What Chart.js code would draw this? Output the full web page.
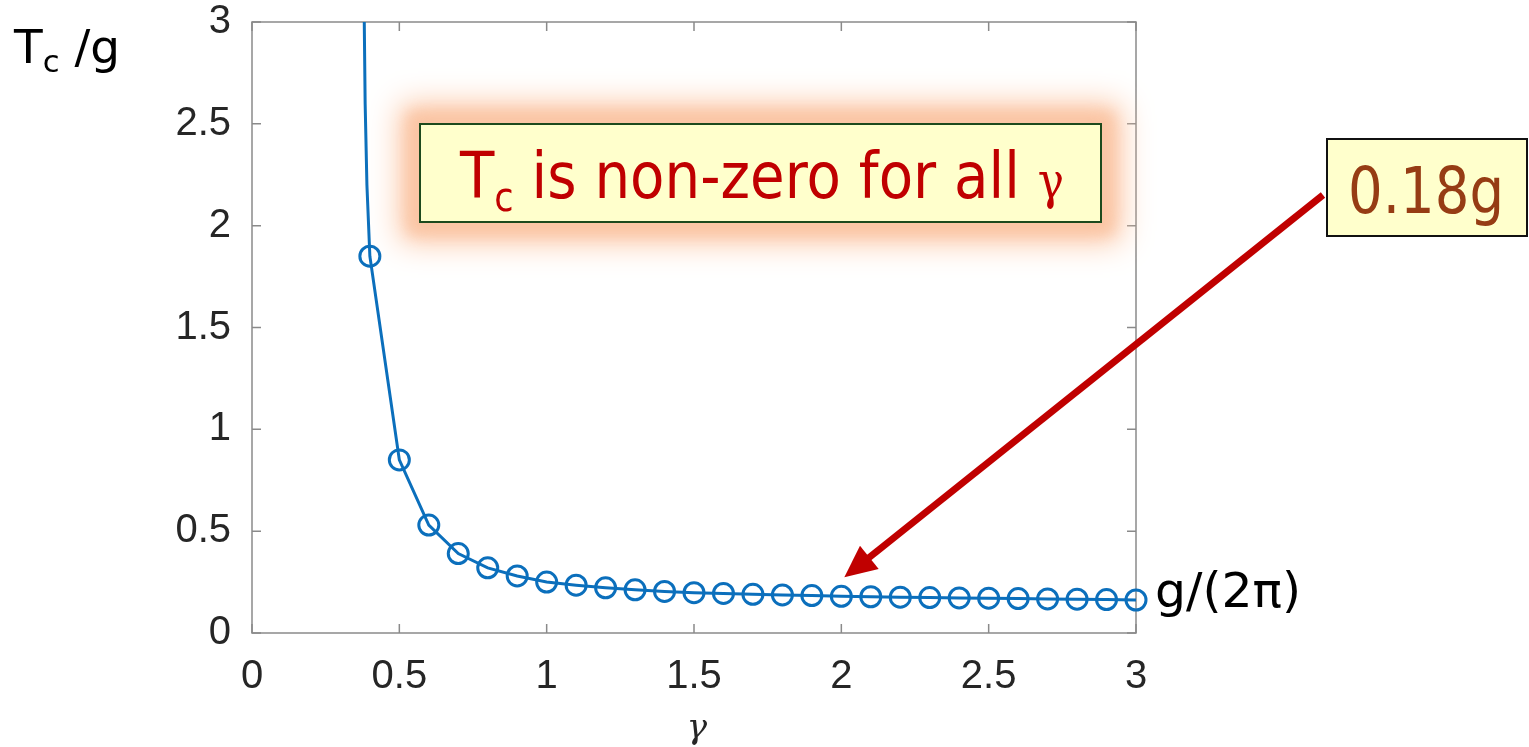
<!DOCTYPE html>
<html>
<head>
<meta charset="utf-8">
<title>Tc vs gamma</title>
<script src="https://cdn.jsdelivr.net/npm/chart.js@4.4.1/dist/chart.umd.min.js"></script>
<style>
  html, body { margin: 0; padding: 0; background: #fff; }
  #wrap { width: 1529px; height: 747px; position: relative; }
</style>
</head>
<body>
<div id="wrap"><canvas id="tcChart"></canvas></div>
<script>
// Tc/g computed at each gamma (circles)
const gammaPts = [0.4, 0.5, 0.6, 0.7, 0.8, 0.9, 1.0, 1.1, 1.2, 1.3, 1.4, 1.5, 1.6, 1.7,
                  1.8, 1.9, 2.0, 2.1, 2.2, 2.3, 2.4, 2.5, 2.6, 2.7, 2.8, 2.9, 3.0];
const tcPts = [1.85, 0.85, 0.53, 0.39, 0.32, 0.28, 0.25, 0.235, 0.222, 0.212, 0.204, 0.198, 0.194, 0.19,
               0.187, 0.184, 0.18, 0.178, 0.176, 0.174, 0.172, 0.171, 0.169, 0.167, 0.166, 0.164, 0.162];
// steep branch of the curve above the first circle
const curveTopGamma = [0.381, 0.384, 0.39];
const curveTopTc = [3.0, 2.6, 2.2];

const xTicks = [0, 0.5, 1, 1.5, 2, 2.5, 3];
const yTicks = [0, 0.5, 1, 1.5, 2, 2.5, 3];

// callout: value of Tc/g at gamma = 2
const calloutGamma = 2.0;
const calloutValue = 0.18;

const BLUE = '#0b6fbc';
const AXIS_GREY = '#8a8a8a';
const TICK_TEXT = '#262626';

const curveData = curveTopGamma.map((g, i) => ({ x: g, y: curveTopTc[i] }))
  .concat(gammaPts.map((g, i) => ({ x: g, y: tcPts[i] })));
const markerData = gammaPts.map((g, i) => ({ x: g, y: tcPts[i] }));

// MATLAB-like box with inward ticks on all four sides
const framePlugin = {
  id: 'frame',
  beforeDatasetsDraw(chart) {
    const { ctx, chartArea: a, scales: { x, y } } = chart;
    const len = 9;
    ctx.save();
    ctx.strokeStyle = AXIS_GREY;
    ctx.lineWidth = 1.5;
    ctx.strokeRect(a.left, a.top, a.right - a.left, a.bottom - a.top);
    ctx.beginPath();
    xTicks.forEach(v => {
      const px = x.getPixelForValue(v);
      ctx.moveTo(px, a.bottom); ctx.lineTo(px, a.bottom - len);
      ctx.moveTo(px, a.top); ctx.lineTo(px, a.top + len);
    });
    yTicks.forEach(v => {
      const py = y.getPixelForValue(v);
      ctx.moveTo(a.left, py); ctx.lineTo(a.left + len, py);
      ctx.moveTo(a.right, py); ctx.lineTo(a.right - len, py);
    });
    ctx.stroke();
    ctx.restore();
  }
};

// draw a run of text pieces (sub/superscripts), squeezed to a given width if asked
function drawRuns(ctx, runs, x, baseline, color, fitWidth) {
  let total = 0;
  runs.forEach(r => { ctx.font = r.font; r.w = ctx.measureText(r.t).width; total += r.w; });
  const sx = fitWidth ? fitWidth / total : 1;
  ctx.save();
  ctx.translate(x, baseline);
  ctx.scale(sx, 1);
  ctx.fillStyle = color;
  ctx.textBaseline = 'alphabetic';
  ctx.textAlign = 'left';
  let cx = 0;
  runs.forEach(r => {
    ctx.font = r.font;
    ctx.fillText(r.t, cx, r.dy || 0);
    cx += r.w;
  });
  ctx.restore();
}

const notesPlugin = {
  id: 'notes',
  afterDraw(chart) {
    const { ctx, scales: { x, y } } = chart;
    ctx.save();

    // axis titles
    drawRuns(ctx, [
      { t: 'T', font: '46px "DejaVu Sans"' },
      { t: 'c', font: '30px "DejaVu Sans"', dy: 9 },
      { t: ' /g', font: '46px "DejaVu Sans"' }
    ], 14, 63, '#000', 106);
    drawRuns(ctx, [{ t: 'g/(2π)', font: '48px "DejaVu Sans"' }], 1155, 607, '#000', 146);
    ctx.font = 'italic 34px "DejaVu Serif"';
    ctx.fillStyle = TICK_TEXT;
    ctx.textAlign = 'center';
    ctx.textBaseline = 'alphabetic';
    ctx.fillText('γ', x.getPixelForValue(1.5) + 3, 738);

    // soft peach glow behind the text box
    const bx = 420, by = 124, bw = 681, bh = 98;
    ctx.save();
    ctx.fillStyle = 'rgba(252,200,168,1)';
    ctx.shadowColor = 'rgba(251,198,165,1)';
    ctx.shadowOffsetX = 10000;
    ctx.shadowBlur = 30;
    ctx.fillRect(bx - 10000 - 20, by - 20, bw + 40, bh + 40);
    ctx.shadowBlur = 14;
    ctx.fillRect(bx - 10000 - 12, by - 12, bw + 24, bh + 24);
    ctx.restore();
    ctx.fillStyle = '#ffffcc';
    ctx.fillRect(bx, by, bw, bh);
    ctx.strokeStyle = '#1d4a1d';
    ctx.lineWidth = 2;
    ctx.strokeRect(bx, by, bw, bh);
    drawRuns(ctx, [
      { t: 'T', font: '64px "DejaVu Sans"' },
      { t: 'c', font: '40px "DejaVu Sans"', dy: 13 },
      { t: ' is non-zero for all ', font: '64px "DejaVu Sans"' },
      { t: 'γ', font: '50px "DejaVu Serif"', dy: 0 }
    ], 460, 198, '#c00000', 604);

    // callout box with value
    const cx0 = 1327, cy0 = 139, cw = 200, ch = 97;
    ctx.fillStyle = '#ffffcc';
    ctx.fillRect(cx0, cy0, cw, ch);
    ctx.strokeStyle = '#111';
    ctx.lineWidth = 2;
    ctx.strokeRect(cx0, cy0, cw, ch);
    drawRuns(ctx, [{ t: calloutValue.toFixed(2) + 'g', font: '64px "DejaVu Sans"' }],
      1348, 213, '#963c14', 156);

    // arrow from callout to the curve at gamma = 2
    const sxp = 1323, syp = 195;
    const tx = x.getPixelForValue(calloutGamma) + 3;
    const ty = y.getPixelForValue(calloutValue) - 19;
    const dx = tx - sxp, dy = ty - syp, L = Math.hypot(dx, dy);
    const ux = dx / L, uy = dy / L;
    const headLen = 32, headHalf = 15;
    const bxp = tx - ux * headLen, byp = ty - uy * headLen;
    ctx.strokeStyle = '#c00000';
    ctx.fillStyle = '#c00000';
    ctx.lineWidth = 7;
    ctx.beginPath();
    ctx.moveTo(sxp, syp);
    ctx.lineTo(bxp + ux * 4, byp + uy * 4);
    ctx.stroke();
    ctx.beginPath();
    ctx.moveTo(tx, ty);
    ctx.lineTo(bxp - uy * headHalf, byp + ux * headHalf);
    ctx.lineTo(bxp + uy * headHalf, byp - ux * headHalf);
    ctx.closePath();
    ctx.fill();

    ctx.restore();
  }
};

const tickFont = { family: '"Liberation Sans", Arial, sans-serif', size: 40 };
const plainNum = v => String(v);

new Chart(document.getElementById('tcChart'), {
  type: 'scatter',
  data: {
    datasets: [
      {
        label: 'curve',
        data: curveData,
        showLine: true,
        borderColor: BLUE,
        borderWidth: 3,
        pointRadius: 0,
        fill: false
      },
      {
        label: 'Tc/g',
        data: markerData,
        showLine: false,
        borderColor: BLUE,
        backgroundColor: 'rgba(0,0,0,0)',
        pointRadius: 10,
        pointBorderWidth: 3,
        clip: false
      }
    ]
  },
  options: {
    responsive: true,
    maintainAspectRatio: false,
    animation: false,
    layout: { padding: { left: 0, right: 393, top: 22, bottom: 0 } },
    plugins: { legend: { display: false }, tooltip: { enabled: false } },
    scales: {
      x: {
        type: 'linear', min: 0, max: 3,
        afterBuildTicks: s => { s.ticks = xTicks.map(v => ({ value: v })); },
        afterFit: s => { s.height = 114; s.paddingLeft = 0; s.paddingRight = 0; },
        grid: { display: false },
        border: { display: false },
        ticks: { font: tickFont, color: TICK_TEXT, padding: 12, maxRotation: 0, callback: plainNum }
      },
      y: {
        type: 'linear', min: 0, max: 3,
        afterBuildTicks: s => { s.ticks = yTicks.map(v => ({ value: v })); },
        afterFit: s => { s.width = 252; s.paddingTop = 0; s.paddingBottom = 0; },
        grid: { display: false },
        border: { display: false },
        ticks: { font: tickFont, color: TICK_TEXT, padding: 13, callback: plainNum }
      }
    }
  },
  plugins: [framePlugin, notesPlugin]
});
</script>
</body>
</html>
